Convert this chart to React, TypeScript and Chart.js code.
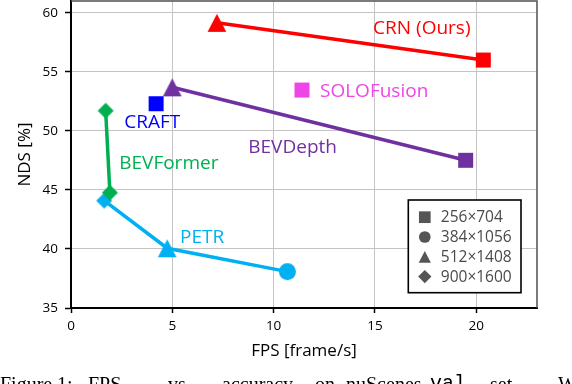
import React, { useEffect, useRef } from "react";
import { Chart, registerables } from "chart.js";

Chart.register(...registerables);

// ---------- data ----------
const X_TICKS = [0, 5, 10, 15, 20];
const Y_TICKS = [35, 40, 45, 50, 55, 60];
const X_RANGE = [0, 23];
const Y_RANGE = [35, 61];

const seriesNames = ["CRN (Ours)", "SOLOFusion", "BEVDepth", "CRAFT", "BEVFormer", "PETR"];
const seriesColors = ["#ff0000", "#ef45e6", "#7030a0", "#0000ff", "#00b050", "#00b0f0"];

const crnFps = [7.2, 20.35];
const crnNds = [59.15, 56.0];
const crnShapes = ["triangle", "square"];

const solofusionFps = [11.4];
const solofusionNds = [53.46];
const solofusionShapes = ["square"];

const bevdepthFps = [5.0, 19.48];
const bevdepthNds = [53.69, 47.51];
const bevdepthShapes = ["triangle", "square"];

const craftFps = [4.2];
const craftNds = [52.3];
const craftShapes = ["square"];

const bevformerFps = [1.71, 1.92];
const bevformerNds = [51.71, 44.77];
const bevformerShapes = ["diamond", "diamond"];

const petrFps = [1.64, 4.75, 10.68];
const petrNds = [44.09, 40.06, 38.08];
const petrShapes = ["diamond", "triangle", "circle"];

// label anchors (data units: left edge, text baseline)
const labelFps = [14.91, 12.29, 8.75, 2.63, 2.38, 5.38];
const labelNds = [58.18, 52.9, 48.16, 50.27, 46.75, 40.53];

const resolutions = ["256×704", "384×1056", "512×1408", "900×1600"];
const resolutionShapes = ["square", "circle", "triangle", "diamond"];

const captionWords = ["Figure", "1:", "FPS", "vs.", "accuracy", "on", "nuScenes", "val", "set.", "We"];
const captionLefts = [0, 57, 88, 168, 222, 315, 346, 430, 490, 558];

// ---------- helpers ----------
const FONT = '"Open Sans", "Noto Sans", sans-serif';
const MARKER_SIZE: Record<string, number> = { square: 15, circle: 17, triangle: 18, diamond: 16 };

function drawShape(g: CanvasRenderingContext2D, shape: string, cx: number, cy: number, size: number) {
  const h = size / 2;
  g.beginPath();
  if (shape === "square") {
    g.rect(cx - h, cy - h, size, size);
  } else if (shape === "circle") {
    g.arc(cx, cy, h, 0, Math.PI * 2);
  } else if (shape === "triangle") {
    g.moveTo(cx, cy - h);
    g.lineTo(cx + h * 1.04, cy + h);
    g.lineTo(cx - h * 1.04, cy + h);
    g.closePath();
  } else {
    g.moveTo(cx, cy - h);
    g.lineTo(cx + h, cy);
    g.lineTo(cx, cy + h);
    g.lineTo(cx - h, cy);
    g.closePath();
  }
  g.fill();
}

function makeMarker(shape: string, color: string) {
  const size = MARKER_SIZE[shape];
  const s = Math.ceil(size) + 4;
  const c = document.createElement("canvas");
  c.width = s;
  c.height = s;
  const g = c.getContext("2d")!;
  g.fillStyle = color;
  drawShape(g, shape, s / 2, s / 2, size);
  return c;
}

function makeDataset(idx: number, fps: number[], nds: number[], shapes: string[]) {
  const color = seriesColors[idx];
  return {
    label: seriesNames[idx],
    data: fps.map((x, i) => ({ x, y: nds[i] })),
    showLine: true,
    borderColor: color,
    backgroundColor: color,
    borderWidth: 3.5,
    tension: 0,
    pointStyle: shapes.map((s) => makeMarker(s, color)),
    pointRadius: 8,
    pointHoverRadius: 8,
  };
}

const overlayPlugin = {
  id: "overlay",
  beforeDatasetsDraw(chart: any) {
    const { ctx, chartArea } = chart;
    ctx.save();
    ctx.strokeStyle = "#505050";
    ctx.lineWidth = 1.5;
    ctx.beginPath();
    ctx.moveTo(chartArea.left, chartArea.top);
    ctx.lineTo(chartArea.right, chartArea.top);
    ctx.lineTo(chartArea.right, chartArea.bottom);
    ctx.stroke();
    ctx.restore();
  },
  afterDatasetsDraw(chart: any) {
    const { ctx, chartArea } = chart;
    const xs = chart.scales.x;
    const ys = chart.scales.y;
    ctx.save();
    // series labels
    ctx.font = `19px ${FONT}`;
    ctx.textAlign = "left";
    ctx.textBaseline = "alphabetic";
    seriesNames.forEach((name, i) => {
      ctx.fillStyle = seriesColors[i];
      ctx.fillText(name, xs.getPixelForValue(labelFps[i]), ys.getPixelForValue(labelNds[i]));
    });
    // legend box
    const boxW = 112.7;
    const boxH = 92.7;
    const bx = chartArea.right - 16 - boxW;
    const by = chartArea.bottom - 15.3 - boxH;
    ctx.fillStyle = "#ffffff";
    ctx.fillRect(bx, by, boxW, boxH);
    ctx.strokeStyle = "#000000";
    ctx.lineWidth = 1.6;
    ctx.strokeRect(bx, by, boxW, boxH);
    const legendSizes: Record<string, number> = { square: 11.7, circle: 11.7, triangle: 11.7, diamond: 13.3 };
    ctx.font = `15.5px ${FONT}`;
    ctx.textBaseline = "middle";
    resolutions.forEach((label, i) => {
      const cy = by + 17.2 + i * 19.8;
      ctx.fillStyle = "#555555";
      drawShape(ctx, resolutionShapes[i], bx + 16.5, cy, legendSizes[resolutionShapes[i]]);
      ctx.fillStyle = "#4a4a4a";
      ctx.fillText(label, bx + 32.5, cy + 0.5);
    });
    ctx.restore();
  },
};

export default function App() {
  const canvasRef = useRef<HTMLCanvasElement | null>(null);

  useEffect(() => {
    const canvas = canvasRef.current;
    if (!canvas) return;
    const tickFont = { family: FONT, size: 13.5 };
    const titleFont = { family: FONT, size: 17 };
    const chart = new Chart(canvas, {
      type: "scatter",
      data: {
        datasets: [
          makeDataset(0, crnFps, crnNds, crnShapes),
          makeDataset(1, solofusionFps, solofusionNds, solofusionShapes),
          makeDataset(2, bevdepthFps, bevdepthNds, bevdepthShapes),
          makeDataset(3, craftFps, craftNds, craftShapes),
          makeDataset(4, bevformerFps, bevformerNds, bevformerShapes),
          makeDataset(5, petrFps, petrNds, petrShapes),
        ] as any,
      },
      options: {
        animation: false,
        responsive: false,
        devicePixelRatio: 1,
        layout: { autoPadding: false, padding: { top: 1, right: 35, left: 0, bottom: 0 } },
        plugins: {
          legend: { display: false },
          tooltip: { enabled: false },
        },
        scales: {
          x: {
            type: "linear",
            min: X_RANGE[0],
            max: X_RANGE[1],
            afterBuildTicks: (s: any) => {
              s.ticks = X_TICKS.map((v) => ({ value: v }));
            },
            afterFit: (s: any) => {
              s.height = 76;
              s.paddingLeft = 0;
              s.paddingRight = 0;
              s.paddingTop = 0;
              s.paddingBottom = 0;
            },
            grid: { color: "#c4c4c4", lineWidth: 1, tickColor: "#000", tickLength: 5, tickWidth: 1.5 },
            border: { color: "#000", width: 2 },
            ticks: { font: tickFont, color: "#000", padding: 5, maxRotation: 0 },
            title: {
              display: true,
              text: "FPS [frame/s]",
              font: titleFont,
              color: "#000",
              padding: { top: 0, bottom: 23 },
            },
          },
          y: {
            type: "linear",
            min: Y_RANGE[0],
            max: Y_RANGE[1],
            afterBuildTicks: (s: any) => {
              s.ticks = Y_TICKS.map((v) => ({ value: v }));
            },
            afterFit: (s: any) => {
              s.width = 71;
              s.paddingLeft = 0;
              s.paddingRight = 0;
              s.paddingTop = 0;
              s.paddingBottom = 0;
            },
            grid: { color: "#c4c4c4", lineWidth: 1, tickColor: "#000", tickLength: 6, tickWidth: 1.5 },
            border: { color: "#000", width: 2 },
            ticks: { font: tickFont, color: "#000", padding: 7 },
            title: {
              display: true,
              text: "NDS [%]",
              font: titleFont,
              color: "#000",
              padding: { top: 15, bottom: 0 },
            },
          },
        },
      } as any,
      plugins: [overlayPlugin],
    });
    if ((document as any).fonts?.load) {
      (document as any).fonts.load(`19px "Open Sans"`).then(() => chart.update());
    }
    return () => chart.destroy();
  }, []);

  return (
    <div
      style={{
        position: "fixed",
        left: 0,
        top: 0,
        width: 572,
        height: 384,
        overflow: "hidden",
        background: "#fff",
      }}
    >
      <canvas
        ref={canvasRef}
        width={572}
        height={384}
        style={{ position: "absolute", left: 0, top: 0, width: 572, height: 384 }}
      />
      {captionWords.map((w, i) => (
        <span
          key={i}
          style={{
            position: "absolute",
            left: captionLefts[i],
            top: 374,
            fontFamily: w === "val" ? '"Liberation Mono", monospace' : '"Liberation Serif", "Times New Roman", serif',
            fontSize: 20,
            lineHeight: "20px",
            whiteSpace: "nowrap",
            color: "#000",
          }}
        >
          {w}
        </span>
      ))}
    </div>
  );
}
